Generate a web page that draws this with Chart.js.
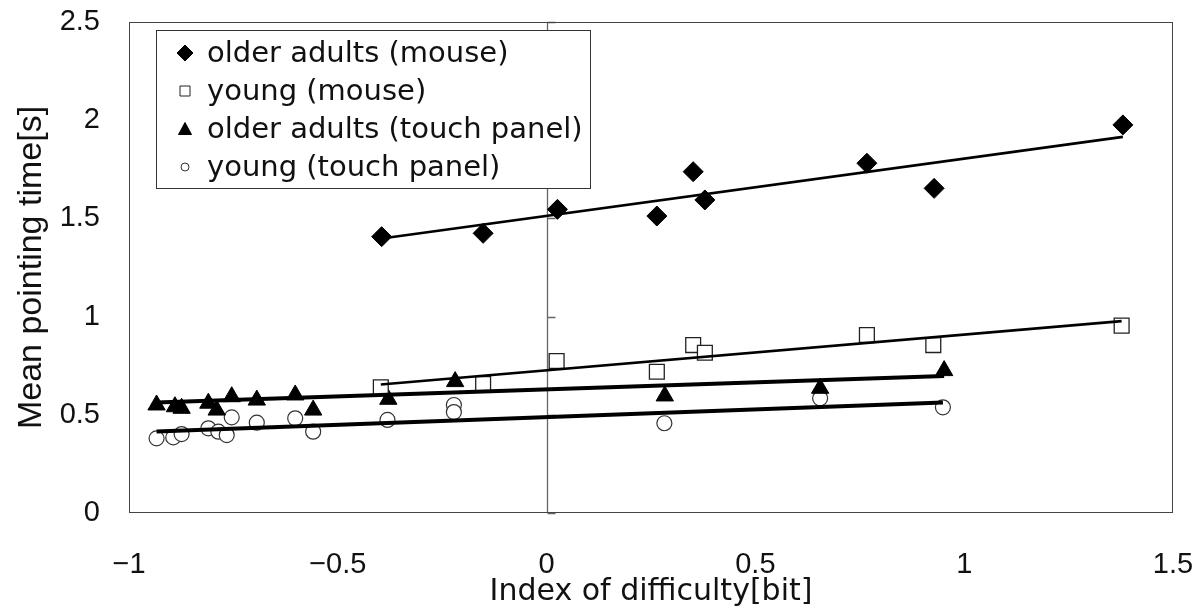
<!DOCTYPE html>
<html>
<head>
<meta charset="utf-8">
<script src="https://cdn.jsdelivr.net/npm/chart.js@4.4.1/dist/chart.umd.min.js"></script>
<style>
  html, body { margin: 0; padding: 0; background: #fff; }
  #wrap { width: 1199px; height: 610px; }
</style>
</head>
<body>
<div id="wrap"><canvas id="chart" width="1199" height="610"></canvas></div>
<script>
// Axis ticks
const xTicks = [-1, -0.5, 0, 0.5, 1, 1.5];
const yTicks = [0, 0.5, 1, 1.5, 2, 2.5];

// Series names, in legend order
const seriesNames = ['older adults (mouse)', 'young (mouse)', 'older adults (touch panel)', 'young (touch panel)'];

// older adults (mouse)
const oldMouseX = [-0.395, -0.152, 0.026, 0.264, 0.351, 0.379, 0.767, 0.928, 1.380];
const oldMouseY = [1.407, 1.424, 1.546, 1.512, 1.738, 1.594, 1.781, 1.653, 1.976];

// young (mouse)
const youngMouseX = [-0.397, -0.152, 0.024, 0.264, 0.351, 0.379, 0.767, 0.926, 1.377];
const youngMouseY = [0.640, 0.657, 0.774, 0.719, 0.855, 0.816, 0.906, 0.855, 0.954];

// older adults (touch panel)
const oldTouchX = [-0.934, -0.890, -0.874, -0.810, -0.790, -0.754, -0.694, -0.602, -0.559, -0.379, -0.219, 0.283, 0.655, 0.952];
const oldTouchY = [0.550, 0.541, 0.533, 0.559, 0.524, 0.592, 0.575, 0.601, 0.524, 0.579, 0.669, 0.596, 0.635, 0.725];

// young (touch panel)
const youngTouchX = [-0.934, -0.894, -0.874, -0.810, -0.786, -0.766, -0.754, -0.694, -0.602, -0.559, -0.381, -0.222, -0.222, 0.282, 0.655, 0.949];
const youngTouchY = [0.380, 0.385, 0.402, 0.431, 0.414, 0.397, 0.487, 0.460, 0.482, 0.414, 0.474, 0.550, 0.514, 0.457, 0.584, 0.538];

// linear trend lines (end points)
const oldMouseFitX = [-0.395, 1.380];
const oldMouseFitY = [1.398, 1.915];
const youngMouseFitX = [-0.397, 1.377];
const youngMouseFitY = [0.654, 0.977];
const oldTouchFitX = [-0.934, 0.952];
const oldTouchFitY = [0.563, 0.698];
const youngTouchFitX = [-0.934, 0.949];
const youngTouchFitY = [0.415, 0.562];

const toPoints = (xs, ys) => xs.map((x, i) => ({ x: x, y: ys[i] }));
const fmt = v => (v < 0 ? '\u2212' + Math.abs(v) : String(v));

const markerSets = [
    { data: toPoints(oldMouseX, oldMouseY), pointStyle: 'rectRot', pointRadius: 10, backgroundColor: '#000', borderColor: '#000', borderWidth: 1 },
    { data: toPoints(youngMouseX, youngMouseY), pointStyle: 'rect', pointRadius: 10.5, backgroundColor: '#fff', borderColor: '#222', borderWidth: 1.3 },
    { data: toPoints(oldTouchX, oldTouchY), pointStyle: 'triangle', pointRadius: 10, backgroundColor: '#000', borderColor: '#000', borderWidth: 1 },
    { data: toPoints(youngTouchX, youngTouchY), pointStyle: 'circle', pointRadius: 7.5, backgroundColor: '#fff', borderColor: '#333', borderWidth: 1.2 }
].map((d, i) => Object.assign(d, { label: seriesNames[i], order: 2, pointHoverRadius: d.pointRadius }));

const fitSets = [
    { data: toPoints(oldMouseFitX, oldMouseFitY), borderWidth: 2.6 },
    { data: toPoints(youngMouseFitX, youngMouseFitY), borderWidth: 2.6 },
    { data: toPoints(oldTouchFitX, oldTouchFitY), borderWidth: 4 },
    { data: toPoints(youngTouchFitX, youngTouchFitY), borderWidth: 4 }
].map(d => Object.assign(d, { label: '', showLine: true, pointRadius: 0, borderColor: '#000', fill: false, order: 1 }));

// small legend markers
function drawMarker(ctx, style, x, y, r) {
    ctx.beginPath();
    if (style === 'rectRot') {
        ctx.moveTo(x, y - r); ctx.lineTo(x + r, y); ctx.lineTo(x, y + r); ctx.lineTo(x - r, y);
    } else if (style === 'rect') {
        ctx.rect(x - r, y - r, 2 * r, 2 * r);
    } else if (style === 'triangle') {
        ctx.moveTo(x, y - r); ctx.lineTo(x + r, y + r * 0.85); ctx.lineTo(x - r, y + r * 0.85);
    } else {
        ctx.arc(x, y, r, 0, Math.PI * 2);
    }
    ctx.closePath();
}

// keep the plot box where the reference has it
function noPad(s) {
    s.paddingTop = 0;
    s.paddingBottom = 0;
    s.paddingLeft = 0;
    s.paddingRight = 0;
}

const framePlugin = {
    id: 'frame',
    beforeDatasetsDraw(chart) {
        const { ctx, chartArea: a, scales: { x, y } } = chart;
        ctx.save();
        // vertical axis crossing at x = 0
        const x0 = Math.round(x.getPixelForValue(0)) + 0.5;
        ctx.strokeStyle = '#666';
        ctx.lineWidth = 1.3;
        ctx.beginPath();
        ctx.moveTo(x0, a.top);
        ctx.lineTo(x0, a.bottom);
        yTicks.forEach(v => {
            const py = Math.round(y.getPixelForValue(v)) + 0.5;
            ctx.moveTo(x0, py);
            ctx.lineTo(x0 + 8, py);
        });
        ctx.stroke();
        // plot area border
        ctx.strokeStyle = '#444';
        ctx.lineWidth = 1;
        ctx.strokeRect(a.left + 0.5, a.top + 0.5, a.width - 1, a.height - 1);
        ctx.restore();
    },
    afterDraw(chart) {
        const { ctx, chartArea: a } = chart;
        const bx = a.left + 27, by = a.top + 8, bw = 434, bh = 158, row = 38;
        ctx.save();
        ctx.fillStyle = '#fff';
        ctx.fillRect(bx, by, bw, bh);
        ctx.strokeStyle = '#333';
        ctx.lineWidth = 1;
        ctx.strokeRect(bx + 0.5, by + 0.5, bw, bh);
        const sizes = { rectRot: 8, rect: 5, triangle: 6.5, circle: 4 };
        ctx.font = '29px "DejaVu Sans"';
        ctx.textBaseline = 'middle';
        markerSets.forEach((d, i) => {
            const cy = by + 23 + i * row;
            drawMarker(ctx, d.pointStyle, bx + 29, cy, sizes[d.pointStyle]);
            ctx.fillStyle = d.backgroundColor;
            ctx.fill();
            ctx.strokeStyle = d.borderColor;
            ctx.lineWidth = 1;
            ctx.stroke();
            ctx.fillStyle = '#111';
            ctx.fillText(d.label, bx + 51, cy + 1);
        });
        ctx.restore();
    }
};

new Chart(document.getElementById('chart'), {
    type: 'scatter',
    data: { datasets: markerSets.concat(fitSets) },
    plugins: [framePlugin],
    options: {
        responsive: false,
        animation: false,
        devicePixelRatio: 1,
        layout: { padding: { top: 22, right: 26, left: 0, bottom: 0 } },
        plugins: {
            legend: { display: false },
            tooltip: { enabled: false }
        },
        scales: {
            x: {
                type: 'linear',
                min: -1,
                max: 1.5,
                afterBuildTicks: s => { s.ticks = xTicks.map(v => ({ value: v })); },
                afterFit: s => { s.height = 97; noPad(s); },
                grid: { display: false, drawTicks: false },
                border: { display: false },
                ticks: {
                    padding: 35,
                    color: '#111',
                    font: { family: '"Liberation Sans"', size: 29 },
                    callback: v => fmt(v)
                },
                title: {
                    display: true,
                    text: 'Index of difficulty[bit]',
                    color: '#111',
                    padding: 0,
                    font: { family: '"DejaVu Sans"', size: 30 }
                }
            },
            y: {
                type: 'linear',
                min: 0,
                max: 2.5,
                afterBuildTicks: s => { s.ticks = yTicks.map(v => ({ value: v })); },
                afterFit: s => { s.width = 129; noPad(s); },
                grid: { display: false, drawTicks: false },
                border: { display: false },
                ticks: {
                    padding: 29,
                    color: '#111',
                    font: { family: '"Liberation Sans"', size: 29 },
                    callback: v => fmt(v)
                },
                title: {
                    display: true,
                    text: 'Mean pointing time[s]',
                    color: '#111',
                    padding: { top: 11, bottom: 0 },
                    font: { family: '"Liberation Sans"', size: 34 }
                }
            }
        }
    }
});
</script>
</body>
</html>
